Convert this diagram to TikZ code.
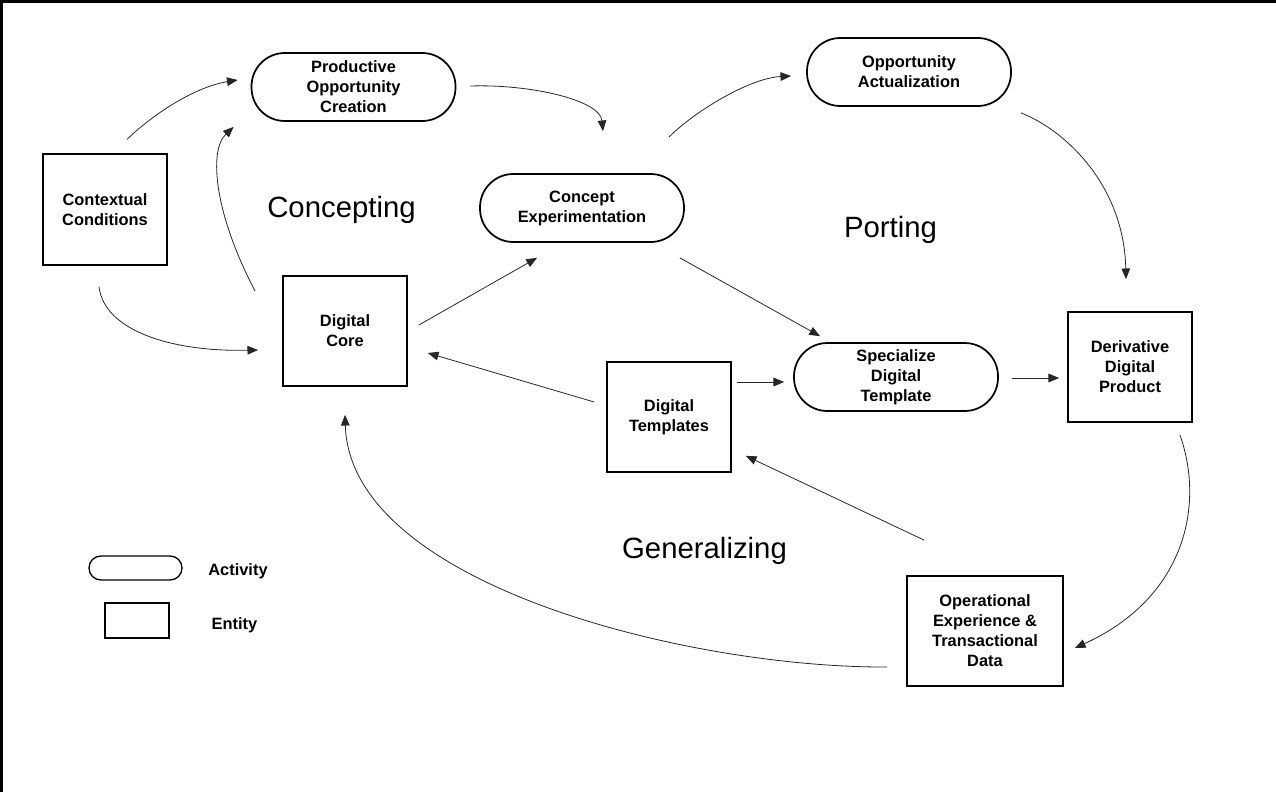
\documentclass[tikz,border=0pt]{standalone}
\usepackage{fontspec}
\setmainfont{Liberation Sans}
\usetikzlibrary{arrows.meta}
\begin{document}
\begin{tikzpicture}[x=0.75pt,y=-0.75pt,
  lbl/.style={font=\fontsize{12.3}{15}\selectfont\bfseries, align=center},
  activity/.style={lbl, draw, line width=1.3pt, rounded corners=25pt, minimum width=153pt, minimum height=51pt, inner sep=0pt},
  entity/.style={lbl, draw, line width=1.3pt, minimum width=93pt, minimum height=82.5pt, inner sep=0pt},
  phase/.style={font=\fontsize{22}{26}\selectfont, anchor=base},
  conn/.style={line width=0.6pt, black!85, -{Triangle[length=8pt,width=6.5pt]}}]
\useasboundingbox (0,0) rectangle (1276,792);
\draw[line width=2pt] (1.5,792) -- (1.5,1.5) -- (1276,1.5);

% activities
\node[activity] (poc) at (353.5,87) {Productive\\Opportunity\\Creation};
\node[activity] (oa) at (909,72) {Opportunity\\Actualization};
\node[activity] (ce) at (582,208) {Concept\\Experimentation};
\node[activity] (sdt) at (896,377) {Specialize\\Digital\\Template};

% entities
\node[entity, minimum width=92.5pt, minimum height=83pt] (cc) at (105,209.5) {Contextual\\Conditions};
\node[entity] (dc) at (345,331) {Digital\\Core};
\node[entity] (dt) at (669,417) {Digital\\Templates};
\node[entity] (ddp) at (1130,367) {Derivative\\Digital\\Product};
\node[entity, minimum width=117pt] (oe) at (985,631) {Operational\\Experience \&\\Transactional\\Data};

% phase labels
\node[phase] (pc) at (341.5,217) {Concepting};
\node[phase] (pp) at (890.5,237) {Porting};
\node[phase] (pg) at (704.5,558) {Generalizing};

% legend
\node[draw, line width=1pt, rounded corners=9pt, minimum width=69.75pt, minimum height=18pt, inner sep=0pt] (legact) at (135.5,568) {};
\node[lbl] (legacttext) at (238,571) {Activity};
\node[draw, line width=1pt, minimum width=48pt, minimum height=26.25pt, inner sep=0pt] (legent) at (137,620.5) {};
\node[lbl] (legenttext) at (234.5,625) {Entity};

% connectors
\draw[conn] ([shift={(22,-14)}]cc.north) .. controls (160,108) and (200,86) .. ([shift={(-13,-7)}]poc.west);
\draw[conn] ([shift={(-27,16)}]dc.north west) .. controls (215,215) and (208,151) .. ([shift={(-17,5)}]poc.south west);
\draw[conn] ([shift={(-6,21)}]cc.south) .. controls (104,330) and (170,352) .. ([shift={(-24,19)}]dc.west);
\draw[conn] ([shift={(14,-1)}]poc.east) .. controls (530,84) and (600,100) .. ([shift={(21,-42)}]ce.north);
\draw[conn] ([shift={(11,-6)}]dc.east) -- ([shift={(-45,15)}]ce.south);
\draw[conn] ([shift={(-12,-15)}]dt.west) -- ([shift={(20,22)}]dc.east);
\draw[conn] ([shift={(-16,-36)}]ce.north east) .. controls (695,111) and (750,78) .. ([shift={(-15,4)}]oa.west);
\draw[conn] ([shift={(9,6)}]oa.south east) .. controls (1065,130) and (1124,185) .. ([shift={(-4,-32)}]ddp.north);
\draw[conn] ([shift={(-5,15)}]ce.south east) -- ([shift={(-76,-6)}]sdt.north);
\draw[conn] ([shift={(5,-35)}]dt.east) -- ([shift={(-9,5)}]sdt.west);
\draw[conn] ([shift={(13,1)}]sdt.east) -- ([shift={(-8,11)}]ddp.west);
\draw[conn] ([shift={(-13,12)}]ddp.south east) .. controls (1205,505) and (1185,598) .. ([shift={(11,17)}]oe.east);
\draw[conn] ([shift={(-19,36)}]oe.west) .. controls (690,668) and (350,585) .. ([shift={(0,28)}]dc.south);
\draw[conn] ([shift={(18,-35)}]oe.north west) -- ([shift={(14,-17)}]dt.south east);
\end{tikzpicture}
\end{document}
